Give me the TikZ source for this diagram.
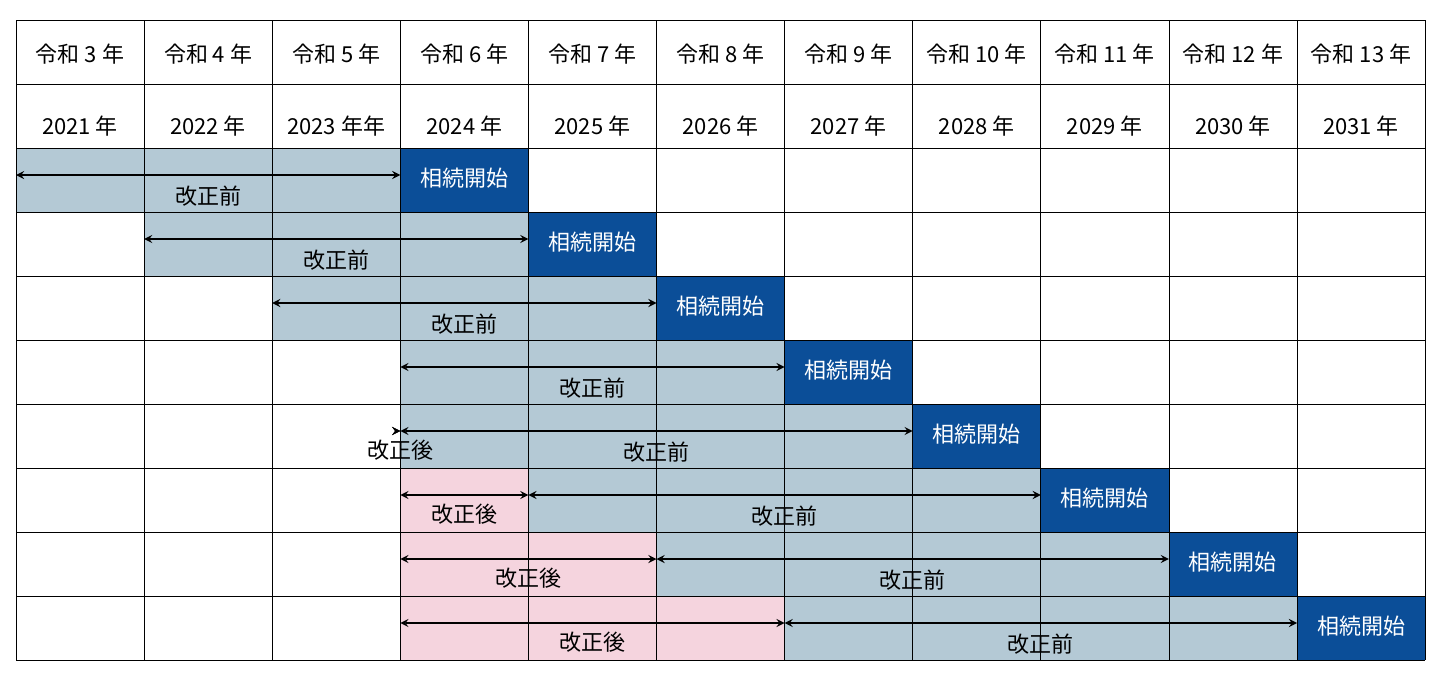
\documentclass[tikz,border=0pt]{standalone}
\usepackage{fontspec}
\setmainfont{Noto Sans CJK JP}
\begin{document}
\begin{tikzpicture}[x=0.5pt,y=-0.5pt,
  pre/.style={fill=preblue,draw=none},
  post/.style={fill=postpink,draw=none},
  start/.style={fill=startblue,draw=none},
  lbl/.style={font=\fontsize{11}{13}\selectfont},
  stlbl/.style={font=\fontsize{11}{13}\selectfont,text=white},
  arr/.style={<->,>=stealth,thick}]
\definecolor{preblue}{HTML}{B4C9D5}
\definecolor{postpink}{HTML}{F5D4DE}
\definecolor{startblue}{HTML}{0B4E98}
\useasboundingbox (0,0) rectangle (1442,680);
% fills
\foreach \r in {0,...,7}{
  \pgfmathsetmacro{\ty}{148+64*\r}
  \pgfmathtruncatemacro{\ps}{\r<4 ? \r : \r-1}
  \pgfmathsetmacro{\xa}{16+128.1*\ps}
  \pgfmathsetmacro{\xb}{16+128.1*(\r+3)}
  \pgfmathsetmacro{\xc}{16+128.1*(\r+4)}
  \ifnum\r>3 \fill[post] (400.3,\ty) rectangle (\xa,\ty+64); \fi
  \fill[pre] (\xa,\ty) rectangle (\xb,\ty+64);
  \fill[start] (\xb,\ty) rectangle (\xc,\ty+64);
  \node[stlbl] (s\r) at ({(\xb+\xc)/2},\ty+30) {相続開始};
}
% grid
\draw[thin] (16,20) -- (1425,20);
\foreach \y in {84,148,212,276,340,404,468,532,596,660} \draw[thin] (16,\y) -- (1425,\y);
\foreach \i in {0,...,11} \draw[thin] (16+128.1*\i,20) -- (16+128.1*\i,660);
% headers
\foreach \i/\a/\b in {0/3/2021 年,1/4/2022 年,2/5/2023 年年,3/6/2024 年,4/7/2025 年,5/8/2026 年,6/9/2027 年,7/10/2028 年,8/11/2029 年,9/12/2030 年,10/13/2031 年}{
  \node[lbl] (h\i) at (80+128.1*\i,54) {令和 \a{} 年};
  \node[lbl] (y\i) at (80+128.1*\i,126) {\b};
}
% arrows
\foreach \r in {0,...,7}{
  \pgfmathsetmacro{\ty}{148+64*\r}
  \pgfmathtruncatemacro{\ps}{\r<4 ? \r : \r-1}
  \pgfmathsetmacro{\xa}{16+128.1*\ps}
  \pgfmathsetmacro{\xb}{16+128.1*(\r+3)}
  \coordinate (pa\r) at (\xa,\ty+27);
  \coordinate (pb\r) at (\xb,\ty+27);
  \draw[arr] (pa\r) -- (pb\r);
  \node[lbl] (pl\r) at ({(\xa+\xb)/2},\ty+48) {改正前};
  \ifnum\r>3
    \coordinate (qa\r) at (400.3,\ty+27);
    \coordinate (qb\r) at (\xa,\ty+27);
    \draw[arr] (qa\r) -- (qb\r);
    \node[lbl] (ql\r) at ({(400.3+\xa)/2},\ty+46) {改正後};
  \fi
}
\end{tikzpicture}
\end{document}
